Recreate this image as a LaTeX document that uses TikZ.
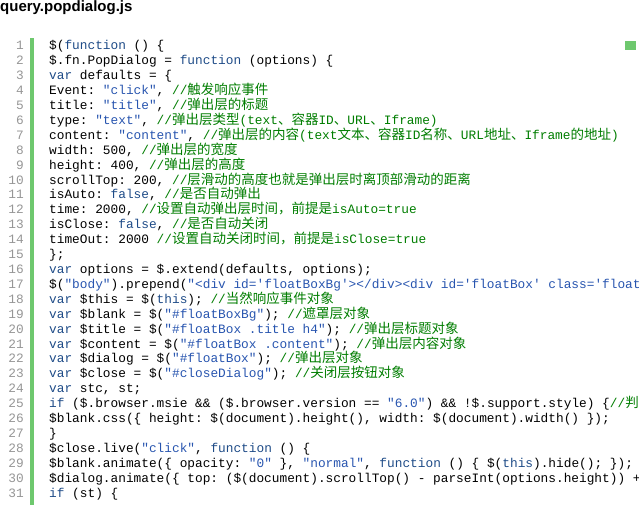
\documentclass[tikz,border=0pt]{standalone}
\usepackage{fontspec}
\setmonofont{Liberation Mono}
\setsansfont{Liberation Sans}
\newfontfamily\cjkf{Noto Sans CJK SC}
\definecolor{kwc}{RGB}{30,75,135}
\definecolor{stc}{RGB}{40,85,175}
\definecolor{cmc}{RGB}{0,125,0}
\definecolor{barc}{RGB}{110,200,110}
\definecolor{lnc}{RGB}{150,150,150}
\newcommand\K[1]{{\color{kwc}#1}}
\newcommand\Ss[1]{{\color{stc}#1}}
\newcommand\Cm[1]{{\color{cmc}#1}}
\newcommand\cj[1]{{\cjkf\fontsize{13.5}{15}\selectfont #1}}
\tikzset{
 ln/.style={anchor=base east,inner sep=0pt,text=lnc,font=\ttfamily\fontsize{12.8}{15}\selectfont},
 code/.style={anchor=base west,inner sep=0pt,font=\ttfamily\fontsize{12.8}{15}\selectfont},
}
\begin{document}
\begin{tikzpicture}[x=1pt,y=-1pt]
\useasboundingbox (0,0) rectangle (639,518);
\node[anchor=west,inner sep=0pt,font=\sffamily\bfseries\fontsize{15}{17}\selectfont] (title) at (0,8) {query.popdialog.js};
\fill[barc] (30,38) rectangle (34,505);
\fill[barc] (625,41) rectangle (636,50);
\begin{scope}
\clip (0,30) rectangle (639,503);
\foreach \i in {1,...,31}{\node[ln] (n\i) at (24,{50+14.9*(\i-1)}) {\i};}
\def\Y#1{{50+14.9*(#1-1)}}
\node[code] (l1) at (49,\Y{1}) {\$(\K{function} () \{};
\node[code] (l2) at (49,\Y{2}) {\$.fn.PopDialog = \K{function} (options) \{};
\node[code] (l3) at (49,\Y{3}) {\K{var} defaults = \{};
\node[code] (l4) at (49,\Y{4}) {Event: \Ss{"click"}, \Cm{//\cj{触发响应事件}}};
\node[code] (l5) at (49,\Y{5}) {title: \Ss{"title"}, \Cm{//\cj{弹出层的标题}}};
\node[code] (l6) at (49,\Y{6}) {type: \Ss{"text"}, \Cm{//\cj{弹出层类型}(text\cj{、容器}ID\cj{、}URL\cj{、}Iframe)}};
\node[code] (l7) at (49,\Y{7}) {content: \Ss{"content"}, \Cm{//\cj{弹出层的内容}(text\cj{文本、容器}ID\cj{名称、}URL\cj{地址、}Iframe\cj{的地址})}};
\node[code] (l8) at (49,\Y{8}) {width: 500, \Cm{//\cj{弹出层的宽度}}};
\node[code] (l9) at (49,\Y{9}) {height: 400, \Cm{//\cj{弹出层的高度}}};
\node[code] (l10) at (49,\Y{10}) {scrollTop: 200, \Cm{//\cj{层滑动的高度也就是弹出层时离顶部滑动的距离}}};
\node[code] (l11) at (49,\Y{11}) {isAuto: \K{false}, \Cm{//\cj{是否自动弹出}}};
\node[code] (l12) at (49,\Y{12}) {time: 2000, \Cm{//\cj{设置自动弹出层时间，前提是}isAuto=true}};
\node[code] (l13) at (49,\Y{13}) {isClose: \K{false}, \Cm{//\cj{是否自动关闭}}};
\node[code] (l14) at (49,\Y{14}) {timeOut: 2000 \Cm{//\cj{设置自动关闭时间，前提是}isClose=true}};
\node[code] (l15) at (49,\Y{15}) {\};};
\node[code] (l16) at (49,\Y{16}) {\K{var} options = \$.extend(defaults, options);};
\node[code] (l17) at (49,\Y{17}) {\$(\Ss{"body"}).prepend(\Ss{"<div id='floatBoxBg'></div><div id='floatBox' class='float}};
\node[code] (l18) at (49,\Y{18}) {\K{var} \$this = \$(\K{this}); \Cm{//\cj{当然响应事件对象}}};
\node[code] (l19) at (49,\Y{19}) {\K{var} \$blank = \$(\Ss{"\#floatBoxBg"}); \Cm{//\cj{遮罩层对象}}};
\node[code] (l20) at (49,\Y{20}) {\K{var} \$title = \$(\Ss{"\#floatBox .title h4"}); \Cm{//\cj{弹出层标题对象}}};
\node[code] (l21) at (49,\Y{21}) {\K{var} \$content = \$(\Ss{"\#floatBox .content"}); \Cm{//\cj{弹出层内容对象}}};
\node[code] (l22) at (49,\Y{22}) {\K{var} \$dialog = \$(\Ss{"\#floatBox"}); \Cm{//\cj{弹出层对象}}};
\node[code] (l23) at (49,\Y{23}) {\K{var} \$close = \$(\Ss{"\#closeDialog"}); \Cm{//\cj{关闭层按钮对象}}};
\node[code] (l24) at (49,\Y{24}) {\K{var} stc, st;};
\node[code] (l25) at (49,\Y{25}) {\K{if} (\$.browser.msie \&\& (\$.browser.version == \Ss{"6.0"}) \&\& !\$.support.style) \{\Cm{//\cj{判}}};
\node[code] (l26) at (49,\Y{26}) {\$blank.css(\{ height: \$(document).height(), width: \$(document).width() \});};
\node[code] (l27) at (49,\Y{27}) {\}};
\node[code] (l28) at (49,\Y{28}) {\$close.live(\Ss{"click"}, \K{function} () \{};
\node[code] (l29) at (49,\Y{29}) {\$blank.animate(\{ opacity: \Ss{"0"} \}, \Ss{"normal"}, \K{function} () \{ \$(\K{this}).hide(); \});};
\node[code] (l30) at (49,\Y{30}) {\$dialog.animate(\{ top: (\$(document).scrollTop() - parseInt(options.height)) +};
\node[code] (l31) at (49,\Y{31}) {\K{if} (st) \{};
\end{scope}
\end{tikzpicture}
\end{document}
